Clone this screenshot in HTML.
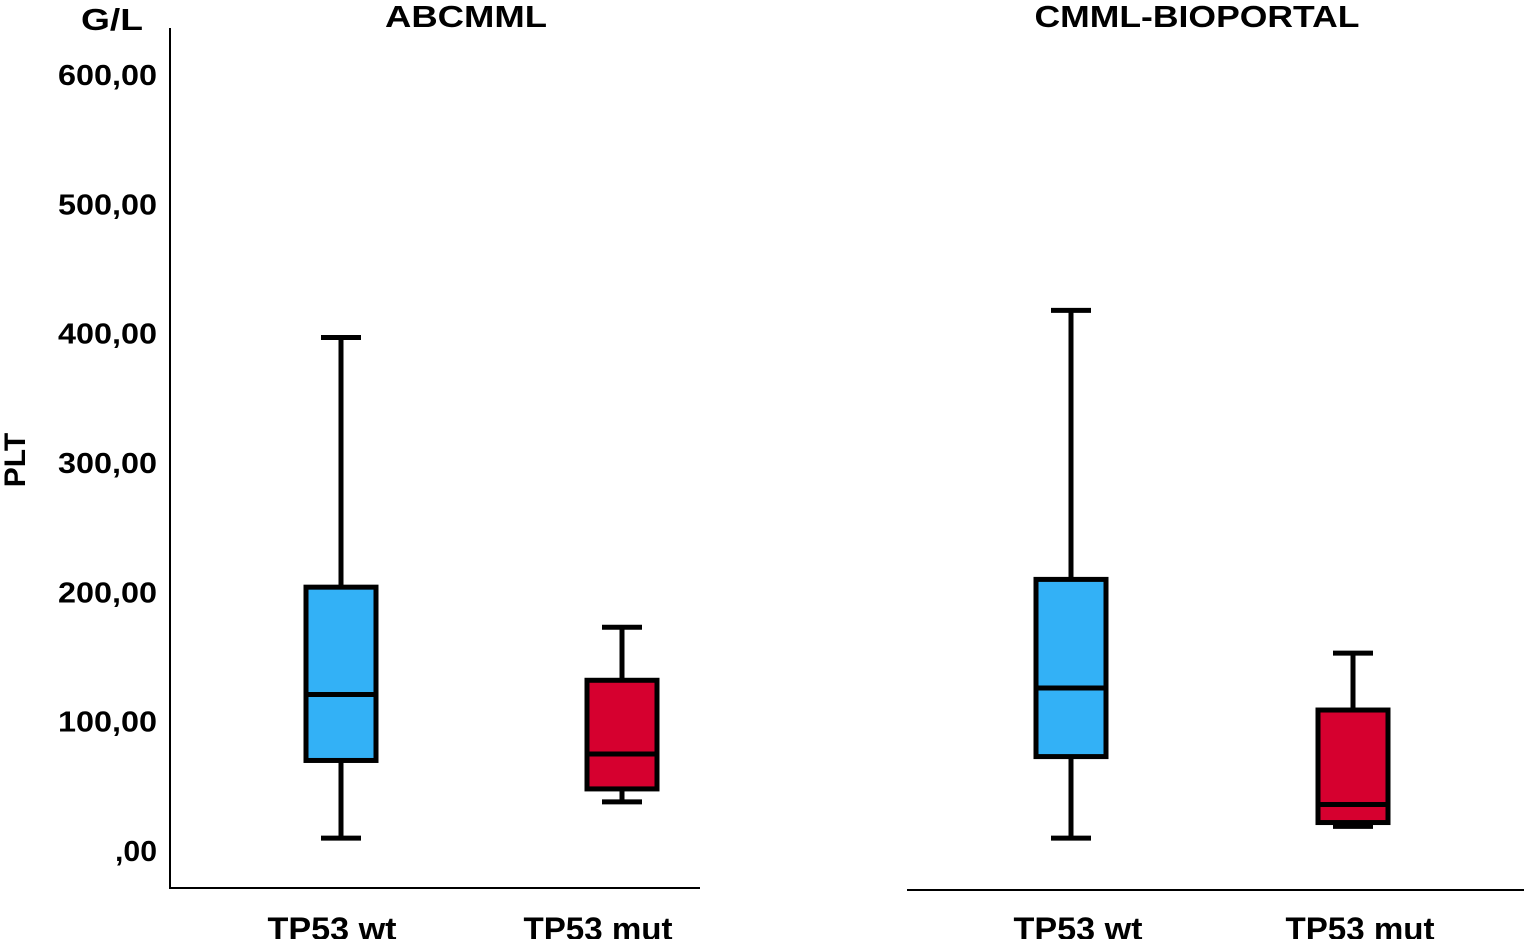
<!DOCTYPE html>
<html><head><meta charset="utf-8"><style>
html,body{margin:0;padding:0;background:#fff;}
svg{display:block;font-family:"Liberation Sans",Arial,sans-serif;}
</style></head><body>
<svg id="chart" width="1524" height="939" viewBox="0 0 1524 939">
<g id="axes"></g><g id="boxes"></g>
</svg>
<script>
const panels = ["ABCMML", "CMML-BIOPORTAL"];
const categories = ["TP53 wt", "TP53 mut"];
const whiskerLow = [10, 38, 10, 19];
const q1 = [70, 48, 73, 22];
const median = [121, 75, 126, 36];
const q3 = [204, 132, 210, 109];
const whiskerHigh = [397, 173, 418, 153];
const yTicks = [0, 100, 200, 300, 400, 500, 600];
const yTickLabels = [",00", "100,00", "200,00", "300,00", "400,00", "500,00", "600,00"];
const colors = ["#33b1f6", "#d6002f", "#33b1f6", "#d6002f"];

const NS = "http://www.w3.org/2000/svg";
function y(v){ return 851 - v * (776/600); }
const boxCenters = [[341, 622], [1071, 1353]];
const labelCenters = [[332, 598], [1078, 1360]];
const labelWidths = [129, 149];
const titleX = [466, 1197];
const titleWidths = [162, 325];
function mk(tag, attrs, parent, text){
  const e = document.createElementNS(NS, tag);
  for (const k in attrs) e.setAttribute(k, attrs[k]);
  if (text !== undefined) e.textContent = text;
  parent.appendChild(e); return e;
}
const axes = document.getElementById("axes");
const boxes = document.getElementById("boxes");

let el = mk("line", {x1:170, y1:28, x2:170, y2:889, stroke:"#000", "stroke-width":2}, axes);


el = mk("line", {x1:169, y1:888, x2:700, y2:888, stroke:"#000", "stroke-width":2}, axes);


el = mk("line", {x1:907, y1:890, x2:1524, y2:890, stroke:"#000", "stroke-width":2}, axes);



yTicks.forEach((t, i) => {
  const w = yTickLabels[i].length === 3 ? 42 : 99;
  const e = mk("text", {x:157, y:y(t)+10, "text-anchor":"end", "font-size":29, "font-weight":"bold", textLength:w, lengthAdjust:"spacingAndGlyphs"}, axes, yTickLabels[i]);
  
  
});
el = mk("text", {x:112, y:30, "text-anchor":"middle", "font-size":31, "font-weight":"bold", textLength:62, lengthAdjust:"spacingAndGlyphs"}, axes, "G/L");


el = mk("text", {x:0, y:0, "text-anchor":"middle", "font-size":30, "font-weight":"bold", transform:"translate(25,460) rotate(-90)"}, axes, "PLT");



panels.forEach((p, pi) => {
  const t = mk("text", {x:titleX[pi], y:27, "text-anchor":"middle", "font-size":31, "font-weight":"bold", textLength:titleWidths[pi], lengthAdjust:"spacingAndGlyphs"}, axes, p);
  
  
  categories.forEach((c, ci) => {
    const l = mk("text", {x:labelCenters[pi][ci], y:940, "text-anchor":"middle", "font-size":32, "font-weight":"bold", textLength:labelWidths[ci], lengthAdjust:"spacingAndGlyphs"}, axes, c);
    
    
    const k = pi*2 + ci, cx = boxCenters[pi][ci], hw = 35, cap = 20;
    const g = mk("g", {stroke:"#000", "stroke-width":5, "stroke-linecap":"butt"}, boxes);
    
    
    mk("line", {x1:cx, y1:y(whiskerHigh[k]), x2:cx, y2:y(q3[k])}, g);
    mk("line", {x1:cx, y1:y(whiskerLow[k]), x2:cx, y2:y(q1[k])}, g);
    mk("line", {x1:cx-cap, y1:y(whiskerHigh[k]), x2:cx+cap, y2:y(whiskerHigh[k])}, g);
    mk("line", {x1:cx-cap, y1:y(whiskerLow[k]), x2:cx+cap, y2:y(whiskerLow[k])}, g);
    mk("rect", {x:cx-hw, y:y(q3[k]), width:hw*2, height:y(q1[k])-y(q3[k]), fill:colors[k]}, g);
    mk("line", {x1:cx-hw, y1:y(median[k]), x2:cx+hw, y2:y(median[k])}, g);
  });
});
</script>
</body></html>
